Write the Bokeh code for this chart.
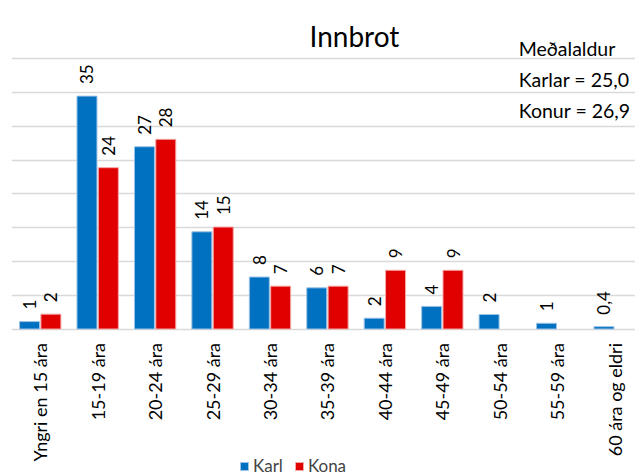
import math
from bokeh.plotting import figure
from bokeh.models import Range1d, FixedTicker, ColumnDataSource, Label, Legend, LegendItem
from bokeh.core.properties import value
from bokeh.embed import file_html
from bokeh.resources import INLINE

categories = ["Yngri en 15 ára", "15-19 ára", "20-24 ára", "25-29 ára", "30-34 ára",
              "35-39 ára", "40-44 ára", "45-49 ára", "50-54 ára", "55-59 ára", "60 ára og eldri"]
karl = [1.1, 34.5, 27.0, 14.4, 7.7, 6.1, 1.6, 3.35, 2.15, 0.85, 0.35]
kona = [2.2, 23.9, 28.1, 15.1, 6.35, 6.35, 8.7, 8.7, 0, 0, 0]
karl_labels = ["1", "35", "27", "14", "8", "6", "2", "4", "2", "1", "0,4"]
kona_labels = ["2", "24", "28", "15", "7", "7", "9", "9", "", "", ""]
grid_ticks = [0, 5, 10, 15, 20, 25, 30, 35, 40]
title_text = "Innbrot"
note_lines = ["Meðalaldur", "Karlar = 25,0", "Konur = 26,9"]

FONT = "Lato"
BLUE = "#0070C0"
RED = "#E00000"

p = figure(frame_width=624, frame_height=468, output_backend="svg", toolbar_location=None,
           x_range=Range1d(-0.5, 10.363), y_range=Range1d(-21.85, 47.48),
           min_border_left=11, min_border_right=0, min_border_top=8, min_border_bottom=0)
p.outline_line_color = None
p.background_fill_color = "white"
p.border_fill_color = "white"

idx = list(range(len(categories)))
off = 0.186
w = 0.348

def src(vals, labels, shift):
    xs, tops, labs = [], [], []
    for i, v, l in zip(idx, vals, labels):
        if v > 0:
            xs.append(i + shift)
            tops.append(v)
            labs.append(l)
    return ColumnDataSource(dict(x=xs, top=tops, lab=labs))

s_karl = src(karl, karl_labels, -off)
s_kona = src(kona, kona_labels, off)

r1 = p.vbar(x="x", top="top", bottom=0, width=w, source=s_karl, fill_color=BLUE,
            line_color="#9DC3E6", line_width=1)
r2 = p.vbar(x="x", top="top", bottom=0, width=w, source=s_kona, fill_color=RED,
            line_color="#F4A6A6", line_width=1)

for s in (s_karl, s_kona):
    p.text(x="x", y="top", text="lab", source=s, angle=math.pi / 2, text_align="left",
           text_baseline="middle", y_offset=-12, text_font=value(FONT),
           text_font_size="17px", text_color="#000000")

# category labels under each group
cat_src = ColumnDataSource(dict(x=idx, y=[0] * len(idx), t=categories))
p.text(x="x", y="y", text="t", source=cat_src, angle=math.pi / 2,
       text_align="right", text_baseline="middle", y_offset=14, text_font=value(FONT),
       text_font_size="18px", text_color="#000000")

p.xaxis.visible = False
p.yaxis.visible = False
p.ygrid.ticker = FixedTicker(ticks=grid_ticks)
p.ygrid.grid_line_color = "#D9D9D9"
p.ygrid.grid_line_width = 1.5
p.xgrid.visible = False

p.add_layout(Label(x=5.47, y=43.4, text=title_text, text_font=FONT, text_font_size="28px",
                   text_align="center", text_baseline="alphabetic", text_color="#000000"))
for t, yv in zip(note_lines, [41.5, 36.9, 32.4]):
    p.add_layout(Label(x=8.33, y=yv, text=t, text_font=FONT, text_font_size="19.5px",
                       text_align="left", text_baseline="alphabetic", text_color="#000000"))

legend = Legend(items=[LegendItem(label="Karl", renderers=[r1]),
                       LegendItem(label="Kona", renderers=[r2])],
                orientation="horizontal", location=(228, 0),
                label_text_font=FONT, label_text_font_size="17px",
                glyph_width=10, glyph_height=10, label_standoff=4, spacing=11,
                padding=0, margin=0, border_line_color=None, background_fill_alpha=0)
p.add_layout(legend, "center")

open("out.html", "w").write(file_html(p, INLINE))
